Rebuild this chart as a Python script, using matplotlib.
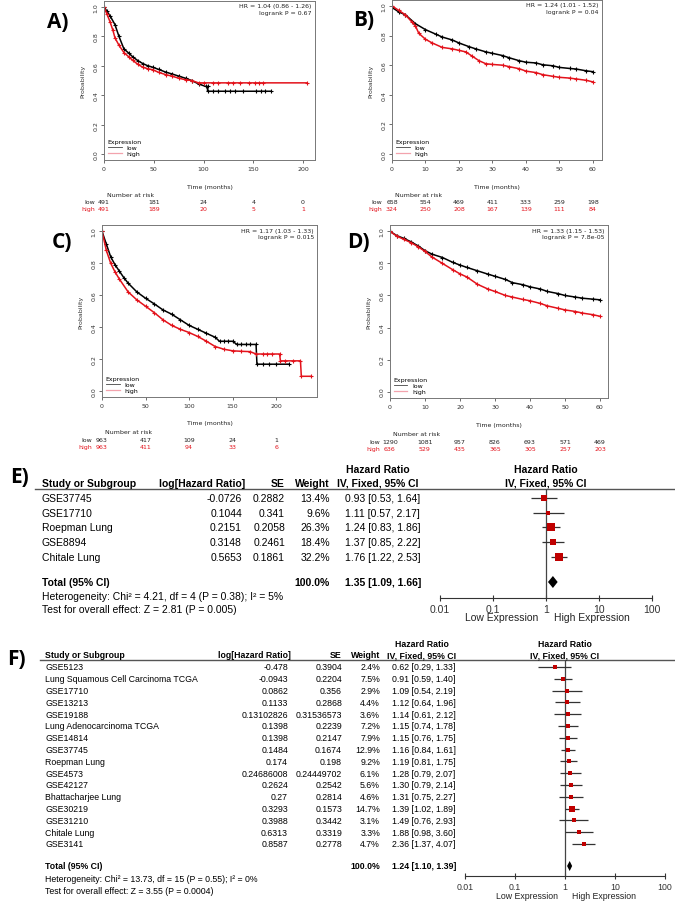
import matplotlib
matplotlib.use("Agg")
import matplotlib.pyplot as plt
import matplotlib.transforms as mtrans
from matplotlib.lines import Line2D
import numpy as np

# ---------------- Kaplan-Meier curves ----------------
a_low_t = [0, 3, 6, 11, 15, 20, 25, 29, 34, 39, 44, 49, 55, 62, 68, 75, 82, 88, 95, 102, 104,
           104, 110, 115, 122, 127, 132, 140, 153, 158, 162, 168]
a_low_s = [1.0, 0.97, 0.94, 0.88, 0.80, 0.715, 0.685, 0.66, 0.635, 0.615, 0.60, 0.59, 0.575, 0.557,
           0.545, 0.53, 0.515, 0.50, 0.477, 0.46, 0.46, 0.427, 0.427, 0.427, 0.427, 0.427, 0.427,
           0.427, 0.427, 0.427, 0.427, 0.427]
a_high_t = [0, 3, 6, 9, 11, 15, 20, 25, 29, 34, 39, 44, 49, 55, 62, 68, 75, 82, 88, 95, 100,
            110, 115, 125, 130, 137, 146, 152, 156, 160, 204]
a_high_s = [1.0, 0.95, 0.90, 0.84, 0.79, 0.74, 0.69, 0.66, 0.636, 0.61, 0.59, 0.58, 0.573, 0.555,
            0.54, 0.53, 0.516, 0.505, 0.50, 0.484, 0.484, 0.484, 0.484, 0.484, 0.484, 0.484,
            0.484, 0.484, 0.484, 0.484, 0.484]

b_low_t = [0, 2, 4, 7, 10, 13, 15, 18, 20, 23, 25, 28, 30, 33, 35, 38, 40, 43, 45, 48, 50, 53,
           55, 58, 60]
b_low_s = [0.99, 0.96, 0.94, 0.88, 0.84, 0.81, 0.79, 0.77, 0.75, 0.725, 0.71, 0.69, 0.68, 0.665,
           0.65, 0.63, 0.62, 0.615, 0.603, 0.596, 0.585, 0.578, 0.574, 0.562, 0.556]
b_high_t = [0, 2, 4, 6, 7, 8, 10, 12, 15, 18, 20, 22, 24, 26, 28, 30, 33, 35, 38, 40, 43, 45,
            48, 50, 53, 55, 58, 60]
b_high_s = [1.0, 0.97, 0.94, 0.89, 0.865, 0.815, 0.775, 0.75, 0.72, 0.71, 0.70, 0.69, 0.66, 0.63,
            0.61, 0.605, 0.60, 0.59, 0.576, 0.56, 0.55, 0.536, 0.525, 0.518, 0.513, 0.507,
            0.498, 0.487]

c_low_t = [0, 5, 10, 15, 20, 25, 30, 40, 50, 60, 70, 80, 90, 100, 110, 120, 130, 135, 140, 145,
           150, 155, 160, 165, 170, 177, 178, 185, 192, 200, 215]
c_low_s = [1.0, 0.92, 0.84, 0.79, 0.75, 0.71, 0.675, 0.62, 0.58, 0.545, 0.507, 0.48, 0.445, 0.41,
           0.385, 0.36, 0.335, 0.31, 0.31, 0.31, 0.31, 0.29, 0.29, 0.29, 0.29, 0.29, 0.166,
           0.166, 0.166, 0.166, 0.166]
c_high_t = [0, 5, 10, 15, 20, 30, 40, 50, 60, 70, 80, 90, 100, 110, 120, 130, 140, 150, 160, 170,
            177, 185, 190, 195, 204, 205, 210, 220, 228, 229, 240]
c_high_s = [1.0, 0.88, 0.80, 0.745, 0.70, 0.62, 0.57, 0.53, 0.49, 0.445, 0.41, 0.385, 0.365,
            0.34, 0.31, 0.277, 0.26, 0.25, 0.247, 0.245, 0.23, 0.23, 0.23, 0.23, 0.23, 0.187,
            0.187, 0.187, 0.187, 0.09, 0.09]

d_low_t = [0, 2, 4, 6, 8, 10, 12, 15, 18, 20, 22, 25, 28, 30, 33, 35, 38, 40, 43, 45, 48, 50,
           53, 55, 58, 60]
d_low_s = [1.0, 0.973, 0.956, 0.935, 0.91, 0.88, 0.858, 0.837, 0.806, 0.79, 0.775, 0.754, 0.733,
           0.72, 0.70, 0.68, 0.667, 0.654, 0.64, 0.625, 0.612, 0.60, 0.59, 0.583, 0.577, 0.573]
d_high_t = d_low_t
d_high_s = [1.0, 0.97, 0.95, 0.93, 0.905, 0.875, 0.84, 0.80, 0.76, 0.735, 0.715, 0.67, 0.64,
            0.625, 0.60, 0.59, 0.575, 0.567, 0.55, 0.535, 0.52, 0.51, 0.50, 0.49, 0.48, 0.47]

a_ticks = [0, 50, 100, 150, 200]
a_risk_low = [491, 181, 24, 4, 0]
a_risk_high = [491, 189, 20, 5, 1]
b_ticks = [0, 10, 20, 30, 40, 50, 60]
b_risk_low = [658, 554, 469, 411, 333, 259, 198]
b_risk_high = [324, 250, 208, 167, 139, 111, 84]
c_ticks = [0, 50, 100, 150, 200]
c_risk_low = [963, 417, 109, 24, 1]
c_risk_high = [963, 411, 94, 33, 6]
d_ticks = [0, 10, 20, 30, 40, 50, 60]
d_risk_low = [1290, 1081, 957, 826, 693, 571, 469]
d_risk_high = [636, 529, 435, 365, 305, 257, 203]

a_hr = "HR = 1.04 (0.86 - 1.26)\nlogrank P = 0.67"
b_hr = "HR = 1.24 (1.01 - 1.52)\nlogrank P = 0.04"
c_hr = "HR = 1.17 (1.03 - 1.33)\nlogrank P = 0.015"
d_hr = "HR = 1.33 (1.15 - 1.53)\nlogrank P = 7.8e-05"

# ---------------- meta-analysis E ----------------
e_names = ["GSE37745", "GSE17710", "Roepman Lung", "GSE8894", "Chitale Lung"]
e_loghr = ["-0.0726", "0.1044", "0.2151", "0.3148", "0.5653"]
e_se = ["0.2882", "0.341", "0.2058", "0.2461", "0.1861"]
e_weight = [13.4, 9.6, 26.3, 18.4, 32.2]
e_hr = [0.93, 1.11, 1.24, 1.37, 1.76]
e_lo = [0.53, 0.57, 0.83, 0.85, 1.22]
e_hi = [1.64, 2.17, 1.86, 2.22, 2.53]
e_total = (1.35, 1.09, 1.66)
e_het = "Heterogeneity: Chi\u00b2 = 4.21, df = 4 (P = 0.38); I\u00b2 = 5%"
e_test = "Test for overall effect: Z = 2.81 (P = 0.005)"

# ---------------- meta-analysis F ----------------
f_names = ["GSE5123", "Lung Squamous Cell Carcinoma TCGA", "GSE17710", "GSE13213", "GSE19188",
           "Lung Adenocarcinoma TCGA", "GSE14814", "GSE37745", "Roepman Lung", "GSE4573",
           "GSE42127", "Bhattacharjee Lung", "GSE30219", "GSE31210", "Chitale Lung", "GSE3141"]
f_loghr = ["-0.478", "-0.0943", "0.0862", "0.1133", "0.13102826", "0.1398", "0.1398", "0.1484",
           "0.174", "0.24686008", "0.2624", "0.27", "0.3293", "0.3988", "0.6313", "0.8587"]
f_se = ["0.3904", "0.2204", "0.356", "0.2868", "0.31536573", "0.2239", "0.2147", "0.1674",
        "0.198", "0.24449702", "0.2542", "0.2814", "0.1573", "0.3442", "0.3319", "0.2778"]
f_weight = [2.4, 7.5, 2.9, 4.4, 3.6, 7.2, 7.9, 12.9, 9.2, 6.1, 5.6, 4.6, 14.7, 3.1, 3.3, 4.7]
f_hr = [0.62, 0.91, 1.09, 1.12, 1.14, 1.15, 1.15, 1.16, 1.19, 1.28, 1.30, 1.31, 1.39, 1.49, 1.88, 2.36]
f_lo = [0.29, 0.59, 0.54, 0.64, 0.61, 0.74, 0.76, 0.84, 0.81, 0.79, 0.79, 0.75, 1.02, 0.76, 0.98, 1.37]
f_hi = [1.33, 1.40, 2.19, 1.96, 2.12, 1.78, 1.75, 1.61, 1.75, 2.07, 2.14, 2.27, 1.89, 2.93, 3.60, 4.07]
f_total = (1.24, 1.10, 1.39)
f_het = "Heterogeneity: Chi\u00b2 = 13.73, df = 15 (P = 0.55); I\u00b2 = 0%"
f_test = "Test for overall effect: Z = 3.55 (P = 0.0004)"

W, H = 675, 903
KM_RED = "#e3121b"
SQ_RED = "#c00000"

fig = plt.figure(figsize=(W / 100, H / 100), dpi=100)
bg = fig.add_axes([0, 0, 1, 1])
bg.set_xlim(0, W)
bg.set_ylim(H, 0)
bg.axis("off")


def rect(l, t, r, b):
    return [l / W, 1 - b / H, (r - l) / W, (b - t) / H]


def km_panel(L, low_t, low_s, high_t, high_s, ticks, risk_low, risk_high, hr_text, label):
    ax = fig.add_axes(rect(*L["box"]))
    ax.plot(low_t, low_s, color="black", lw=1.1, marker="+", ms=3.5, mew=0.8)
    ax.plot(high_t, high_s, color=KM_RED, lw=1.1, marker="+", ms=3.5, mew=0.8)
    ax.set_xlim(0, L["xmax"])
    ax.set_ylim(-0.04, 1.04)
    ax.set_xticks(ticks)
    ax.set_xticklabels([str(t) for t in ticks])
    ax.set_yticks([0, 0.2, 0.4, 0.6, 0.8, 1.0])
    ax.set_yticklabels(["0.0", "0.2", "0.4", "0.6", "0.8", "1.0"], rotation=90, va="center")
    ax.tick_params(labelsize=4.5, length=2, width=0.5, pad=2, colors="#333333")
    for sp in ax.spines.values():
        sp.set_color("#777777")
        sp.set_linewidth(0.7)
    ax.set_ylabel("Probability", fontsize=4.5, labelpad=6, color="#333333")
    ax.text(0.985, 0.985, hr_text, transform=ax.transAxes, ha="right", va="top",
            fontsize=4.5, linespacing=1.3, color="#222222")
    handles = [Line2D([], [], color="#444444", lw=0.6), Line2D([], [], color="#f3a3ad", lw=0.9)]
    ax.legend(handles, ["low", "high"], title="Expression", loc="lower left", frameon=False,
              fontsize=4.5, title_fontsize=4.5, alignment="left", handlelength=2.2,
              labelspacing=0.1, borderaxespad=0.4, borderpad=0.2)

    # risk table below, x from data, y in pixels
    tr = mtrans.blended_transform_factory(ax.transData, bg.transData)
    x0, x1 = L["box"][0], L["box"][2]
    bg.text((x0 + x1) / 2, L["y_time"], "Time (months)", ha="center", va="center",
            fontsize=4.5, color="#222222")
    bg.text(x0 + 3, L["y_nrisk"], "Number at risk", ha="left", va="center",
            fontsize=4.5, color="#222222")
    bg.text(L["lab_x"], L["y_low"], "low", ha="right", va="center", fontsize=4.5, color="#222222")
    bg.text(L["lab_x"], L["y_high"], "high", ha="right", va="center", fontsize=4.5, color=KM_RED)
    for t, nl, nh in zip(ticks, risk_low, risk_high):
        ax.text(t, L["y_low"], str(nl), transform=tr, ha="center", va="center",
                fontsize=4.5, color="#222222", clip_on=False)
        ax.text(t, L["y_high"], str(nh), transform=tr, ha="center", va="center",
                fontsize=4.5, color=KM_RED, clip_on=False)
    bg.text(L["lab_xy"][0], L["lab_xy"][1], label, ha="center", va="center",
            fontsize=15, fontweight="bold", family="Open Sans")
    return ax


km_panel(dict(box=(104, 2, 315, 161), xmax=212, y_time=188, y_nrisk=196, y_low=203,
              y_high=210, lab_x=95, lab_xy=(58, 22)),
         a_low_t, a_low_s, a_high_t, a_high_s, a_ticks, a_risk_low, a_risk_high, a_hr, "A)")
km_panel(dict(box=(392, 1, 602, 161), xmax=62.7, y_time=188, y_nrisk=196, y_low=203,
              y_high=210, lab_x=382, lab_xy=(364, 20)),
         b_low_t, b_low_s, b_high_t, b_high_s, b_ticks, b_risk_low, b_risk_high, b_hr, "B)")
km_panel(dict(box=(102, 226, 317, 398), xmax=247, y_time=424, y_nrisk=433, y_low=441,
              y_high=448, lab_x=92, lab_xy=(62, 243)),
         c_low_t, c_low_s, c_high_t, c_high_s, c_ticks, c_risk_low, c_risk_high, c_hr, "C)")
km_panel(dict(box=(390, 226, 608, 399), xmax=62.3, y_time=426, y_nrisk=435, y_low=443,
              y_high=450, lab_x=380, lab_xy=(358, 243)),
         d_low_t, d_low_s, d_high_t, d_high_s, d_ticks, d_risk_low, d_risk_high, d_hr, "D)")


def forest(L, names, loghr, se, weight, hr, lo, hi, total, het, test, label):
    fs = L["fs"]
    fam = "Liberation Sans"
    rows = L["row0"] + L["dy"] * np.arange(len(names))
    # headers
    bg.text(L["name_x"], L["head2"], "Study or Subgroup", fontsize=fs, fontweight="bold",
            family=fam, va="center")
    bg.text(L["log_r"] + 3, L["head2"], "log[Hazard Ratio]", fontsize=fs, fontweight="bold",
            family=fam, va="center", ha="right")
    bg.text(L["se_r"], L["head2"], "SE", fontsize=fs, fontweight="bold", family=fam,
            va="center", ha="right")
    bg.text(L["w_r"], L["head2"], "Weight", fontsize=fs, fontweight="bold", family=fam,
            va="center", ha="right")
    for xc in (L["hr_c"], L["one"]):
        bg.text(xc, L["head1"], "Hazard Ratio", fontsize=fs, fontweight="bold", family=fam,
                va="center", ha="center")
        bg.text(xc, L["head2"], "IV, Fixed, 95% CI", fontsize=fs, fontweight="bold",
                family=fam, va="center", ha="center")
    bg.plot([L["line_x0"], W], [L["line_y"], L["line_y"]], color="#555555", lw=1.0)
    # rows
    for y, n, lg, s, w, h, l, u in zip(rows, names, loghr, se, weight, hr, lo, hi):
        bg.text(L["name_x"], y, n, fontsize=fs, family=fam, va="center")
        bg.text(L["log_r"], y, lg, fontsize=fs, family=fam, va="center", ha="right")
        bg.text(L["se_r"], y, s, fontsize=fs, family=fam, va="center", ha="right")
        bg.text(L["w_r"], y, "%.1f%%" % w, fontsize=fs, family=fam, va="center", ha="right")
        bg.text(L["hr_l"], y, "%.2f [%.2f, %.2f]" % (h, l, u), fontsize=fs, family=fam,
                va="center")
    bg.text(L["name_x"], L["total_y"], "Total (95% CI)", fontsize=fs, fontweight="bold",
            family=fam, va="center")
    bg.text(L["w_r"], L["total_y"], "100.0%", fontsize=fs, fontweight="bold", family=fam,
            va="center", ha="right")
    bg.text(L["hr_l"], L["total_y"], "%.2f [%.2f, %.2f]" % total, fontsize=fs,
            fontweight="bold", family=fam, va="center")
    bg.text(L["name_x"], L["het_y"], het, fontsize=fs, family=fam, va="center")
    bg.text(L["name_x"], L["test_y"], test, fontsize=fs, family=fam, va="center")
    bg.text(L["lab_xy"][0], L["lab_xy"][1], label, ha="center", va="center",
            fontsize=15, fontweight="bold", family="Open Sans")

    # forest plot
    ax = fig.add_axes(rect(L["fx0"], L["line_y"], L["fx1"], L["axis_y"]))
    ax.set_xscale("log")
    ax.set_xlim(0.01, 100)
    ax.set_ylim(L["axis_y"], L["line_y"])
    ax.patch.set_alpha(0)
    for k in ("top", "left", "right"):
        ax.spines[k].set_visible(False)
    ax.spines["bottom"].set_color("#333333")
    ax.spines["bottom"].set_linewidth(0.8)
    ax.set_yticks([])
    ax.set_xticks([0.01, 0.1, 1, 10, 100])
    ax.set_xticklabels(["0.01", "0.1", "1", "10", "100"])
    ax.minorticks_off()
    ax.tick_params(axis="x", direction="inout", length=5, width=0.8, labelsize=fs,
                   pad=1.5, colors="#333333")
    for t in ax.get_xticklabels():
        t.set_family(fam)
    ax.axvline(1, color="#444444", lw=0.9)
    ax.hlines(rows, lo, hi, color="#333333", lw=0.9)
    for h, y, w in zip(hr, rows, weight):
        ax.plot([h], [y], marker="s", color=SQ_RED, ms=max(L["ms_min"], L["msk"] * np.sqrt(w)),
                mew=0)
    th, tl, tu = total
    dh = L["dia_h"]
    ax.fill([tl, th, tu, th], [L["total_y"], L["total_y"] - dh, L["total_y"], L["total_y"] + dh],
            color="black", lw=0)
    bg.text(L["one"] - L["gap"], L["expr_y"], "Low Expression", fontsize=fs, family=fam,
            va="center", ha="right", color="#222222")
    bg.text(L["one"] + L["gap"], L["expr_y"], "High Expression", fontsize=fs, family=fam,
            va="center", ha="left", color="#222222")


forest(dict(fs=7.5, name_x=42, log_r=242, se_r=285, w_r=330, hr_l=345, hr_c=378, one=546,
            head1=470, head2=484, line_y=490, line_x0=35, row0=499, dy=14.7, total_y=583,
            het_y=597, test_y=610, axis_y=599, fx0=440, fx1=652, expr_y=618, gap=8,
            msk=1.1, ms_min=3.0, dia_h=6.0, lab_xy=(20, 478)),
       e_names, e_loghr, e_se, e_weight, e_hr, e_lo, e_hi, e_total, e_het, e_test, "E)")

forest(dict(fs=6.3, name_x=45, log_r=288, se_r=342, w_r=380, hr_l=392, hr_c=422, one=565,
            head1=645, head2=656, line_y=661, line_x0=40, row0=668, dy=11.8, total_y=867,
            het_y=880, test_y=892, axis_y=877, fx0=465, fx1=665, expr_y=897, gap=7,
            msk=1.0, ms_min=2.4, dia_h=5.0, lab_xy=(16, 660)),
       f_names, f_loghr, f_se, f_weight, f_hr, f_lo, f_hi, f_total, f_het, f_test, "F)")

fig.savefig("out.png", dpi=100)
